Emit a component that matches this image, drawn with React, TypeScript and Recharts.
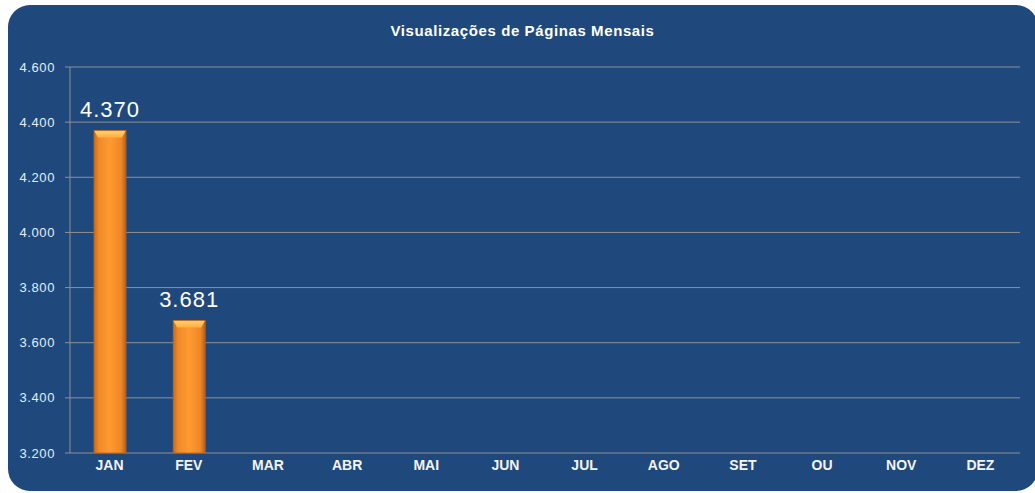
import React from "react";
import { BarChart, Bar, XAxis, YAxis, CartesianGrid, LabelList } from "recharts";

const months = ["JAN", "FEV", "MAR", "ABR", "MAI", "JUN", "JUL", "AGO", "SET", "OU", "NOV", "DEZ"];
const views: (number | null)[] = [4370, 3681, null, null, null, null, null, null, null, null, null, null];
const yTicks = [3200, 3400, 3600, 3800, 4000, 4200, 4400, 4600];
const boundaryTicks = [0, 1, 2, 3, 4, 5, 6, 7, 8, 9, 10, 11, 12];
const title = "Visualizações de Páginas Mensais";

const data = months.map((m, i) => ({ month: m, views: views[i], idx: i + 0.5 }));

const fmt = (v: number) => v.toLocaleString("de-DE");

const BarShape = (props: any) => {
  const { x, y, width, height } = props;
  if (!height || height <= 0) return null;
  const bev = 7;
  return (
    <g>
      <rect x={x} y={y} width={width} height={height} fill="url(#barGrad)" />
      <polygon
        points={`${x},${y} ${x + width},${y} ${x + width - 4},${y + bev} ${x + 4},${y + bev}`}
        fill="url(#bevelGrad)"
      />
      <rect x={x} y={y} width={width} height={height} fill="none" stroke="#B8641A" strokeWidth={0.8} />
    </g>
  );
};

export default function App() {
  return (
    <div style={{ position: "absolute", left: 0, top: 0, width: 1035, height: 493, fontFamily: "'Liberation Sans', Arial, sans-serif" }}>
      <div
        style={{
          position: "absolute",
          left: 8,
          top: 5,
          width: 1030,
          height: 486,
          background: "#1F497C",
          borderRadius: 22,
        }}
      />
      <div
        style={{
          position: "absolute",
          left: 0,
          top: 22,
          width: 1045,
          textAlign: "center",
          color: "#FFFFFF",
          fontWeight: "bold",
          fontSize: 15,
          letterSpacing: 0.6,
        }}
      >
        {title}
      </div>
      <div style={{ position: "absolute", left: 0, top: 0 }}>
        <BarChart width={1035} height={493} data={data} margin={{ top: 67, right: 15, left: 8, bottom: 10 }}>
          <defs>
            <linearGradient id="barGrad" x1="0" y1="0" x2="1" y2="0">
              <stop offset="0%" stopColor="#C8691C" />
              <stop offset="15%" stopColor="#F08A28" />
              <stop offset="50%" stopColor="#FF9A30" />
              <stop offset="85%" stopColor="#EE8726" />
              <stop offset="100%" stopColor="#B85E18" />
            </linearGradient>
            <linearGradient id="bevelGrad" x1="0" y1="0" x2="0" y2="1">
              <stop offset="0%" stopColor="#FFD37A" />
              <stop offset="100%" stopColor="#FFAE40" />
            </linearGradient>
          </defs>
          <CartesianGrid vertical={false} stroke="#8E9194" strokeWidth={1} />
          <XAxis
            xAxisId="bounds"
            type="number"
            dataKey="idx"
            domain={[0, 12]}
            ticks={boundaryTicks}
            height={0}
            tick={false}
            tickSize={5}
            axisLine={{ stroke: "#8E9194" }}
            tickLine={{ stroke: "#8E9194" }}
            allowDataOverflow
          />
          <XAxis
            xAxisId="cat"
            dataKey="month"
            height={30}
            axisLine={false}
            tickLine={false}
            tickSize={0}
            tickMargin={7}
            interval={0}
            tick={{ fill: "#F2F4F8", fontSize: 14, fontWeight: "bold" }}
          />
          <YAxis
            domain={[3200, 4600]}
            ticks={yTicks}
            allowDataOverflow
            width={62}
            tickSize={5}
            tickMargin={10}
            tickFormatter={fmt}
            tick={{ fill: "#E8ECF2", fontSize: 13, letterSpacing: 0.6 }}
            axisLine={{ stroke: "#8E9194" }}
            tickLine={{ stroke: "#8E9194" }}
          />
          <Bar xAxisId="cat" dataKey="views" barSize={32} shape={<BarShape />} isAnimationActive={false}>
            <LabelList
              dataKey="views"
              position="top"
              offset={13}
              formatter={(v: any) => (v == null ? "" : fmt(v))}
              style={{ fill: "#FFFFFF", fontSize: 22, letterSpacing: 1 }}
            />
          </Bar>
        </BarChart>
      </div>
    </div>
  );
}
